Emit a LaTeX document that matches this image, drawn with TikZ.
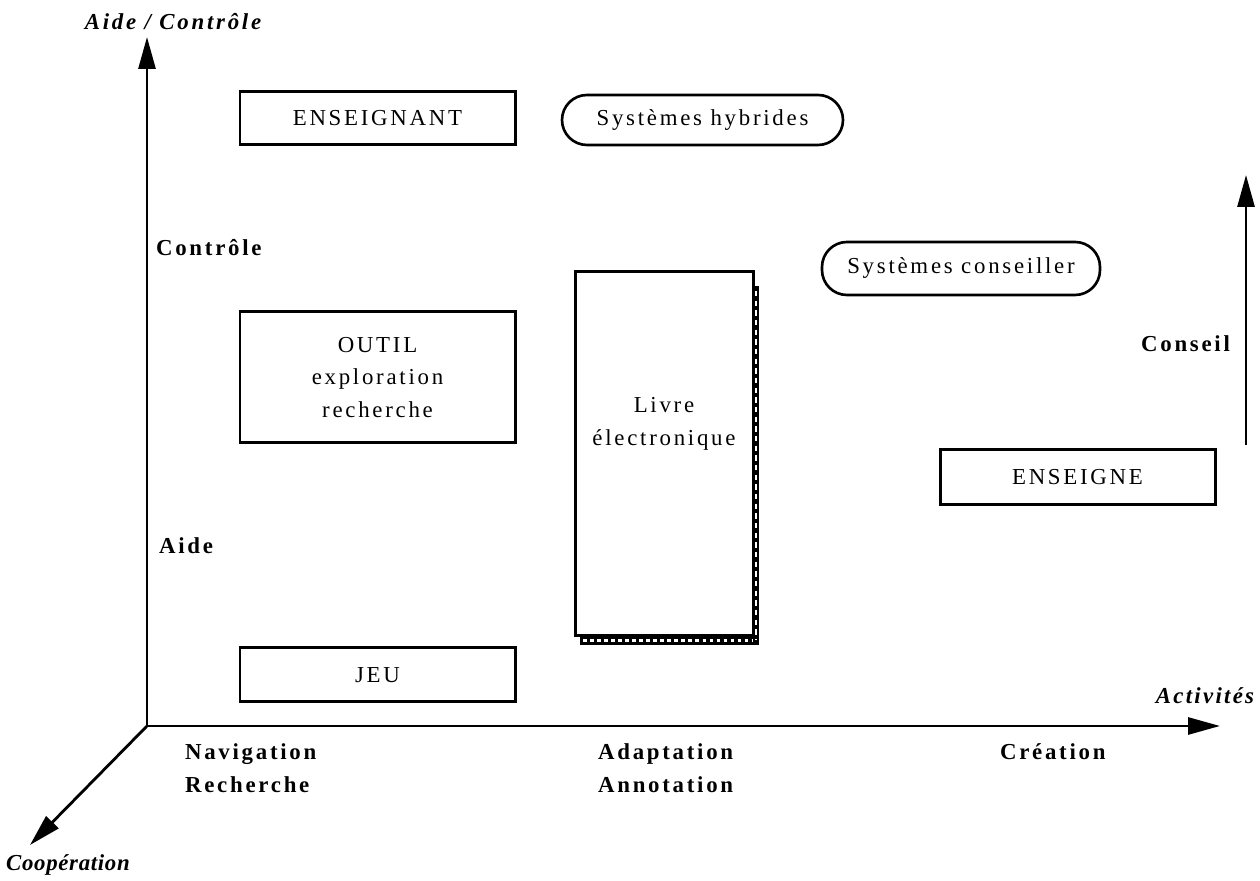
\documentclass[tikz,border=0pt]{standalone}
\usepackage{fontspec}
\setmainfont[LetterSpace=12]{Liberation Serif}
\usetikzlibrary{arrows.meta}
\tikzset{every scope/.style={line width=1.4pt}}

\begin{document}
\begin{tikzpicture}[font=\fontsize{13}{18.5}\selectfont,
    box/.style={draw,line width=1.7pt,minimum width=5.5cm,minimum height=1.06cm,align=center},
    pill/.style={draw,rounded corners=0.5cm,line width=1.5pt,minimum height=1cm},
    axe/.style={-{Triangle[length=0.64cm,width=0.34cm]},line width=1.6pt},
    titre/.style={font=\fontsize{13}{14}\selectfont\bfseries\itshape\addfontfeature{LetterSpace=12}},
    niveau/.style={font=\fontsize{13}{18.5}\selectfont\bfseries,align=left}]
  \useasboundingbox (0,0) rectangle (25.2,17.62);
  % axes
  \coordinate (O) at (2.94,3.10);
  \coordinate (haut) at (2.94,16.88);
  \coordinate (droite) at (24.40,3.10);
  \coordinate (bas) at (0.60,0.72);
  \coordinate (cpied) at (24.92,8.72);
  \coordinate (ctete) at (24.92,14.12);
  \draw[axe] (O) -- (haut);
  \draw[axe] (O) -- (droite);
  \draw[axe] (O) -- (bas);
  \draw[axe] (cpied) -- (ctete);
  \node[titre] (aidecontrole) at (3.46,17.18) {Aide / Contrôle};
  \node[titre,font=\fontsize{13}{14}\selectfont\bfseries\itshape\addfontfeature{LetterSpace=3}] (cooperation) at (1.36,0.32) {Coopération};
  \node[titre,font=\fontsize{13}{14}\selectfont\bfseries\itshape\addfontfeature{LetterSpace=10}] (activites) at (24.10,3.70) {Activités};
  % niveaux
  \node[niveau,anchor=west] (controle) at (2.98,12.66) {Contrôle};
  \node[niveau,anchor=west] (aide) at (3.04,6.70) {Aide};
  \node[niveau,anchor=east] (conseil) at (24.74,10.74) {Conseil};
  \node[niveau,anchor=north west] (navigation) at (3.56,2.88) {Navigation\\Recherche};
  \node[niveau,anchor=north west] (adaptation) at (11.82,2.88) {Adaptation\\Annotation};
  \node[niveau,anchor=north west] (creation) at (19.86,2.88) {Création};
  % boites
  \node[box] (enseignant) at (7.55,15.25) {ENSEIGNANT};
  \node[box,minimum height=2.62cm] (outil) at (7.55,10.07) {OUTIL\\exploration\\recherche};
  \node[box,minimum height=1.08cm] (jeu) at (7.55,4.12) {JEU};
  \node[box,minimum height=1.1cm] (enseigne) at (21.55,8.07) {ENSEIGNE};
  \node[pill,minimum width=5.62cm] (hybrides) at (14.05,15.22) {Systèmes hybrides};
  \node[pill,minimum width=5.56cm,minimum height=1.06cm] (conseiller) at (19.22,12.25) {Systèmes conseiller};
  % livre avec ombre
  \fill (11.60,4.72) rectangle (15.18,11.90);
  \draw[white,line width=0.8pt,dash pattern=on 3pt off 2.5pt] (15.12,11.80) -- (15.12,4.82);
  \draw[white,line width=2pt,dash pattern=on 2pt off 2pt] (11.66,4.81) -- (15.06,4.81);
  \node[box,fill=white,minimum width=3.56cm,minimum height=7.28cm] (livre) at (13.28,8.54) {};
  \node[align=center] (livretexte) at ([yshift=0.6cm]livre.center) {Livre\\électronique};
\end{tikzpicture}
\end{document}
